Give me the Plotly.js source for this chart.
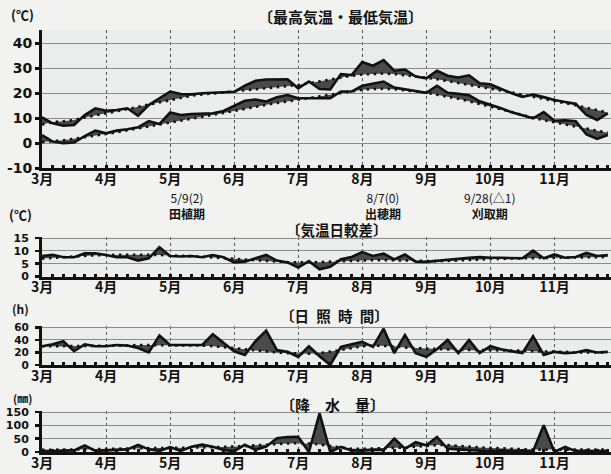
<!DOCTYPE html>
<html>
<head>
<meta charset="utf-8">
<script src="https://cdn.plot.ly/plotly-3.0.1.min.js"></script>
<style>
  html, body { margin: 0; padding: 0; background: #f2f2f0; }
  #chart { width: 611px; height: 474px; }
</style>
</head>
<body>
<div id="chart"></div>
<script>
// Month labels and the half-decade (半旬) index where each month starts
const months = ['3月', '4月', '5月', '6月', '7月', '8月', '9月', '10月', '11月'];
const monthStart = [0, 6, 12, 18, 24, 30, 36, 42, 48];

// Half-decade values, 3月第1半旬 – 11月第6半旬
const maxTemp = [10.4, 8, 7, 7.3, 11.3, 14, 13, 13.3, 14, 11, 15.3, 18, 20.7, 19.7, 19.6, 20, 20.3, 20.6,
  20.6, 23, 25, 25.5, 25.6, 25.6, 22, 24.7, 21.7, 21.5, 27.7, 27.3, 32.5, 31, 33.3, 29, 29.5, 26.7,
  26, 29, 27, 26.3, 27.2, 24, 23.6, 21.7, 20, 18.5, 19.5, 18.5, 17.3, 16.5, 15.8, 11.3, 9.3, 12];
const maxTempNormal = [7.5, 8.5, 8.8, 9.3, 10.3, 11, 12, 12.8, 13.7, 14.6, 15.5, 16.5, 17.5, 18.3, 19, 19.5, 20, 20.4,
  20.8, 21.2, 21.6, 22, 22.4, 22.8, 23.3, 24, 24.8, 25.6, 26.4, 27, 27.5, 27.8, 27.9, 27.7, 27.3, 26.8,
  26.2, 25.6, 24.9, 24.2, 23.5, 22.7, 21.9, 21.1, 20.3, 19.5, 18.7, 17.9, 17, 16.1, 15.2, 14.2, 13.2, 12.3];
const minTemp = [3.3, 0.7, 0, 0.3, 2.9, 5.1, 4, 5.1, 5.6, 6.4, 8.9, 7.7, 12.3, 11.3, 11.7, 11.7, 12, 12.9,
  15, 17, 17.5, 16.7, 18.4, 19.3, 18, 18, 18.3, 18, 20.7, 20.7, 23, 23.8, 24.7, 22.3, 21.5, 20.8,
  20.2, 23, 20.2, 19.8, 19.2, 16.8, 15.5, 14, 12.4, 11.2, 10, 12.5, 9, 9.2, 8.8, 3.5, 1.8, 3.3];
const minTempNormal = [0.5, 0.8, 1.2, 1.8, 2.4, 3, 3.7, 4.4, 5.2, 6, 6.8, 7.6, 8.5, 9.3, 10, 10.7, 11.4, 12.1,
  13, 13.8, 14.6, 15.4, 16.1, 16.8, 17.5, 18.2, 18.9, 19.6, 20.3, 20.9, 21.4, 21.7, 21.8, 21.6, 21.3, 20.8,
  20.2, 19.5, 18.6, 17.8, 16.8, 15.8, 14.8, 13.8, 12.5, 11.3, 10.2, 9.2, 8.4, 7.6, 6.8, 6, 5, 4.2];

const tempRange = [8, 8.5, 7.5, 7.5, 9, 9, 8.4, 7.5, 7.5, 6.2, 7.1, 11.4, 8, 7.8, 8, 7.5, 8.4, 7.5,
  5.5, 5.8, 7.1, 8.4, 6.2, 5.5, 3.5, 6, 2.8, 3.8, 6.7, 7.6, 9.5, 8, 8.9, 6.7, 8.6, 5.8,
  5.7, 6.1, 6.7, 7.1, 7.3, 7.6, 7.3, 7.3, 7.1, 7.1, 10.1, 7.1, 8.6, 7.3, 7.6, 9.2, 8, 8.4];
const tempRangeNormal = [7, 7.3, 7.6, 7.9, 8.1, 8.3, 8.4, 8.5, 8.5, 8.5, 8.5, 8.4, 8.3, 8.1, 7.9, 7.7, 7.5, 7.2,
  6.9, 6.6, 6.3, 6, 5.8, 5.6, 5.5, 5.5, 5.6, 5.8, 6, 6.2, 6.3, 6.4, 6.4, 6.3, 6.2, 6.1,
  6, 6, 6.1, 6.2, 6.4, 6.6, 6.8, 7, 7, 7.1, 7.2, 7.3, 7.4, 7.5, 7.5, 7.6, 7.6, 7.6];

const sunshine = [30, 33, 38, 22, 33, 30, 30, 32, 31, 27, 20, 47, 32, 32, 31, 32, 49, 36,
  22, 16, 38, 55, 24, 21, 13, 30, 14, 0, 29, 33, 37, 29, 58, 19, 48, 19,
  13, 25, 40, 19, 40, 19, 30, 25, 22, 19, 46, 16, 21, 19, 20, 24, 20, 21];
const sunshineNormal = [30, 30, 31, 31, 31, 31, 31, 31, 31, 32, 32, 32, 32, 32, 31, 31, 30, 29,
  27, 25, 23, 21, 20, 19, 18, 18, 19, 21, 24, 27, 30, 31, 31, 30, 28, 27,
  26, 25, 24, 24, 24, 24, 24, 24, 23, 23, 22, 22, 21, 21, 20, 20, 20, 20];

const rain = [4, 3, 5, 6, 25, 4, 6, 8, 10, 27, 10, 4, 18, 4, 20, 28, 20, 8,
  3, 27, 8, 20, 52, 56, 57, 0, 145, 0, 19, 6, 5, 8, 8, 50, 12, 37,
  25, 56, 12, 10, 8, 5, 3, 5, 2, 4, 3, 100, 0, 19, 3, 4, 2, 3];
const rainNormal = [8, 8, 9, 10, 10, 11, 12, 12, 13, 14, 14, 15, 15, 15, 16, 17, 18, 19,
  20, 22, 25, 28, 30, 32, 33, 32, 28, 22, 16, 12, 12, 13, 14, 15, 17, 20,
  24, 26, 26, 24, 20, 17, 15, 13, 11, 10, 9, 9, 9, 9, 9, 9, 9, 9];

// growth stages: date (difference from normal in days) and stage name
const stageDates = ['5/9(2)', '8/7(0)', '9/28(△1)'];
const stageNames = ['田植期', '出穂期', '刈取期'];

const idx = maxTemp.map((_, i) => i);

const INK = '#111';
const SHADE = '#4a4a4a';
const CJK = 'Noto Sans CJK JP';
const NUM = 'DejaVu Sans';
const W = 611, H = 474, LEFT = 42;

// pixel helpers for placing panels and labels
const dom = (bottomPx, topPx) => [(H - bottomPx) / H, (H - topPx) / H];
const px = x => (x - LEFT) / (W - LEFT);
const py = y => (H - y) / H;

// normal (dotted) followed by the observed line, shaded in between
function pair(normal, actual, n) {
  const xa = n === 1 ? 'x' : 'x' + n;
  const ya = n === 1 ? 'y' : 'y' + n;
  return [
    { x: idx, y: normal, xaxis: xa, yaxis: ya, type: 'scatter', mode: 'lines',
      line: { color: INK, width: 2.6, dash: '2.5px,4.5px' }, hoverinfo: 'skip' },
    { x: idx, y: actual, xaxis: xa, yaxis: ya, type: 'scatter', mode: 'lines',
      line: { color: INK, width: 2.6 }, fill: 'tonexty', fillcolor: SHADE }
  ];
}

const traces = [
  ...pair(maxTempNormal, maxTemp, 1),
  ...pair(minTempNormal, minTemp, 1),
  ...pair(tempRangeNormal, tempRange, 2),
  ...pair(sunshineNormal, sunshine, 3),
  ...pair(rainNormal, rain, 4)
];

function xAxis(anchor) {
  return {
    domain: [0, 1], range: [0, 53.3], anchor: anchor,
    tickmode: 'array', tickvals: monthStart, ticktext: months,
    ticks: 'inside', ticklen: 3, tickwidth: 3, tickcolor: INK,
    minor: { tickmode: 'linear', tick0: 0, dtick: 1, ticks: 'inside', ticklen: 3, tickwidth: 3, tickcolor: INK, showgrid: false },
    showline: true, linewidth: 3, linecolor: INK,
    showgrid: true, gridcolor: '#555', gridwidth: 1, griddash: 'dot',
    zeroline: false, fixedrange: true,
    ticklabelstandoff: -4,
    tickfont: { family: CJK, size: 14, color: INK, weight: 'bold' }
  };
}

function yAxis(anchor, domain, range, vals, labels, size, standoff) {
  return {
    domain: domain, range: range, anchor: anchor,
    tickmode: 'array', tickvals: vals, ticktext: labels,
    ticks: 'outside', ticklen: 4, tickwidth: 2.5, tickcolor: INK,
    showline: true, linewidth: 3, linecolor: INK,
    showgrid: true, gridcolor: '#8c8c8c', gridwidth: 1,
    zeroline: false, fixedrange: true,
    ticklabelstandoff: standoff,
    tickfont: { family: NUM, size: size, color: INK, weight: 'bold' }
  };
}

function note(text, x, y, size, bold) {
  return {
    text: text, xref: 'paper', yref: 'paper', x: px(x), y: py(y),
    xanchor: 'center', yanchor: 'middle', showarrow: false,
    font: { family: CJK, size: size, color: INK, weight: bold ? 'bold' : 'normal' }
  };
}

const stageX = [187, 383, 489];
const stageNotes = stageDates.map((d, i) =>
  note(d + '<br><b>' + stageNames[i] + '</b>', stageX[i], 205, 12, false));

const layout = {
  width: W, height: H,
  margin: { l: LEFT, r: 0, t: 0, b: 0 },
  paper_bgcolor: '#f2f2f0',
  plot_bgcolor: '#ebecec',
  showlegend: false,
  xaxis: xAxis('y'),
  xaxis2: Object.assign(xAxis('y2'), { matches: 'x' }),
  xaxis3: Object.assign(xAxis('y3'), { matches: 'x' }),
  xaxis4: Object.assign(xAxis('y4'), { matches: 'x' }),
  yaxis: yAxis('x', dom(168.3, 30), [-10, 45.3], [-10, 0, 10, 20, 30, 40], ['-10', '0', '10', '20', '30', '40'], 14, 0),
  yaxis2: yAxis('x2', dom(276.5, 236.5), [0, 15.6], [0, 5, 10, 15], ['0', '5', '10', '15'], 11, 4),
  yaxis3: yAxis('x3', dom(365, 326.2), [0, 62], [0, 20, 40, 60], ['0', '20', '40', '60'], 10.5, 4),
  yaxis4: yAxis('x4', dom(452, 410.7), [0, 155], [0, 50, 100, 150], ['0', '50', '100', '150'], 11, 4),
  annotations: [
    note('(℃)', 22, 15, 13, true),
    note('〔最高気温・最低気温〕', 340, 16, 15, true),
    ...stageNotes,
    note('(℃)', 20, 214, 13, true),
    note('〔気温日較差〕', 337, 230, 14.5, true),
    note('(h)', 20, 309, 12, true),
    note('〔日\u2002照\u2002時\u2002間〕', 335, 315, 14.5, true),
    note('(㎜)', 22, 398, 11, true),
    note('〔降　水　量〕', 332, 404, 15, true)
  ]
};

Plotly.newPlot('chart', traces, layout, { displayModeBar: false, staticPlot: true });
</script>
</body>
</html>
